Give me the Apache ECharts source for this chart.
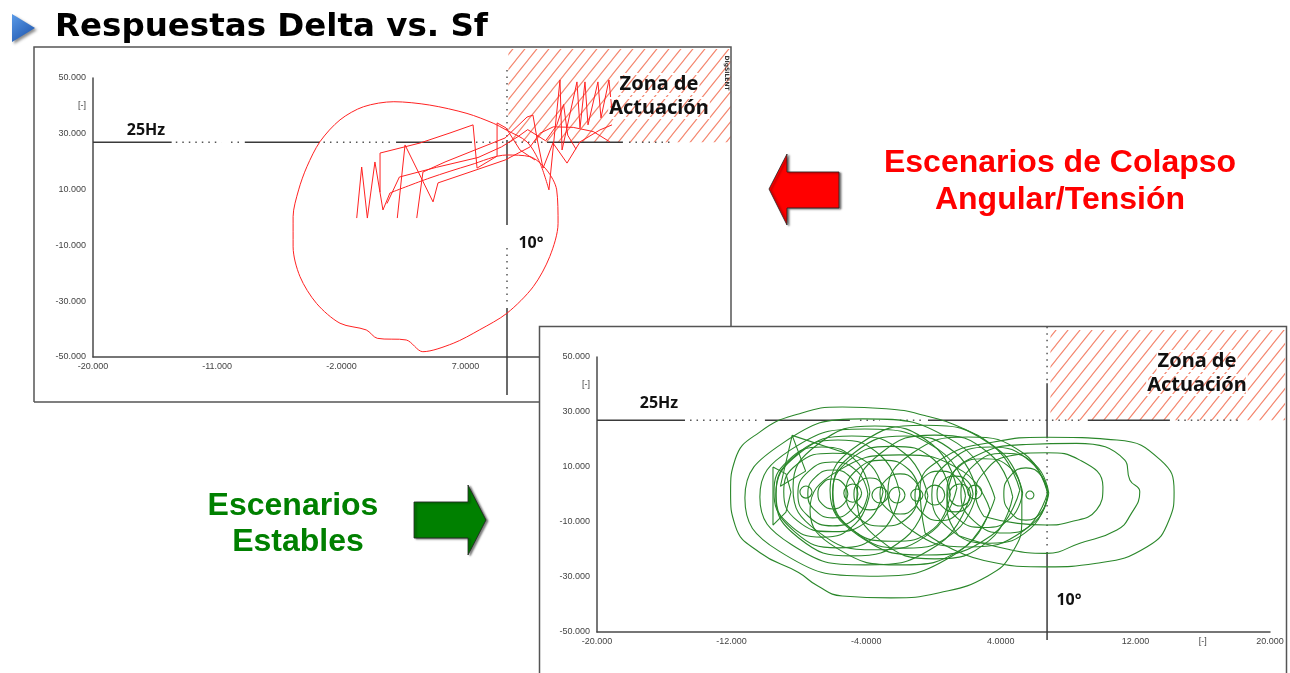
<!DOCTYPE html>
<html><head><meta charset="utf-8">
<script src="https://cdn.jsdelivr.net/npm/echarts/dist/echarts.min.js"></script>
<style>html,body{margin:0;padding:0;background:#fff;overflow:hidden}#c{width:1290px;height:673px}</style>
</head><body><div id="c"></div>
<script>
// ---------------- tick values / labels ----------------
const topXTicks = [-20, -11, -2, 7, 16, 25];
const topXTickLabels = ['-20.000', '-11.000', '-2.0000', '7.0000', '16.000', '25.000'];
const yTicks = [-50, -30, -10, 10, 30, 40, 50];
const yTickLabels = ['-50.000', '-30.000', '-10.000', '10.000', '30.000', '[-]', '50.000'];
const botXTicks = [-20, -12, -4, 4, 12, 16, 20];
const botXTickLabels = ['-20.000', '-12.000', '-4.0000', '4.0000', '12.000', '[-]', '20.000'];

// ---------------- reference lines (25Hz / 10°) ----------------
const topRefY = 27;
const topHSolid = [[-20, -14.3], [-9.0, -3.55], [1.96, 7.46], [12.9, 18.4]];
const topHDots = [[-14.0, -10.7], [-10.0, -9.3], [-3.3, 1.7], [7.75, 12.6], [18.84, 22.0]];
const topRefX = 10;
const topVSolid = [[27.8, -2.7], [-32.4, -63.6]];
const topVDots = [[52.9, 27.8], [-10.9, -30.6]];
const topZone = [[10.1, 27, 26.2, 60.4]];

const botRefY = 27;
const botHSolid = [[-20, -14.77], [-10.02, -4.97], [-0.33, 4.42], [9.17, 14.05]];
const botHDots = [[-14.47, -10.31], [-4.37, -3.18], [-2.0, -0.51], [4.72, 8.88], [14.52, 18.2]];
const botRefX = 6.75;
const botVSolid = [[40.5, 20.5], [-20.9, -52.9]];
const botVDots = [[61.0, 40.5], [19.8, -20.2]];
const botZone = [[6.95, 27, 20.9, 59.8]];

// ---------------- red trajectories (collapse) ----------------
const redZigA = [[-0.89,-0.2],[-0.53,18.1],[-0.12,-0.2],[0.43,19.9],[1.01,2.7],[1.52,8.8]];
const redLoop = [[1.52,8.8],[4.42,14.2],[7.32,18.8],[9.98,22.4],[11.67,21.8],[12.88,17.0],[13.6,9.9],[13.7,-2.1],[13.1,-14.0],[11.9,-24.8],[10.0,-34.3],[8.0,-40.3],[6.1,-45.1],[3.9,-48.1],[2.7,-43.9],[0.6,-43.3],[-0.2,-40.3],[-2.1,-37.9],[-3.8,-30.8],[-5.0,-21.2],[-5.5,-10.5],[-5.5,0.3],[-5.1,9.9],[-4.5,18.2],[-3.55,27.2],[-2.1,35.0],[-0.4,39.7],[1.8,41.5],[4.4,40.3],[7.1,37.3],[9.0,33.8],[9.93,31.4],[11.45,27.1],[12.39,19.5],[13.04,9.9]];
const redSpikes = [[13.04,9.9],[13.84,49.3],[13.99,24.2],[15.07,48.6],[15.29,32.1],[15.65,48.6],[15.87,33.2],[16.59,48.6],[16.81,35.7],[17.39,49.3],[17.61,37.8]];
const redZ2 = [[2.05,-0.2],[2.61,26.0],[4.64,5.6],[5.0,12.4],[7.32,16.3],[9.86,20.6],[11.67,25.3],[12.39,30.2],[13.36,32.5],[14.8,32.3],[16.25,30.8],[17.46,27.1]];
const redZ3 = [[0.8,9.1],[0.8,23.1],[3.7,26.7],[5.87,30.3],[7.54,33.2],[7.83,17.7],[9.28,22.0],[9.28,33.9],[9.93,32.1],[10.94,24.2],[12.03,20.6]];
const redZ4 = [[3.46,-0.2],[3.91,16.3],[5.51,19.9],[7.68,24.2],[9.86,28.5],[11.45,36.0],[11.88,36.7],[12.17,28.5],[12.61,17.7],[13.33,26.7],[14.35,19.5],[15.29,27.1],[16.74,31.4],[17.61,33.2]];
const redZ5 = [[1.3,5.0],[2.2,14.5],[4.9,18.0],[7.9,21.5],[9.6,25.3],[10.8,29.0],[11.5,31.5],[12.8,27.5],[13.6,33.0],[14.1,40.5],[14.4,29.5],[15.0,24.5]];

// ---------------- green trajectories (stable) ----------------
const gA1 = [[5.25,0.8],[4.68,10.5],[3.53,17.8],[1.79,23.9],[-0.52,28.7],[-2.82,31.2],[-5.42,31.8],[-8.02,29.3],[-10.33,22.7],[-11.78,12.9],[-12.06,0.8],[-11.78,-11.4],[-10.33,-21.1],[-8.02,-28.4],[-6.87,-33.3],[-5.42,-36.9],[-2.53,-37.6],[0.35,-35.7],[3.23,-29.6],[4.68,-21.1],[5.25,-9.0],[5.25,0.8]];
const gA2 = [[3.65,-1.3],[1.42,18.6],[-4.2,27.5],[-8.98,18.6],[-11.21,-1.3],[-9.2,-20.5],[-3.78,-29.7],[1.42,-21.2],[3.65,-1.3]];
const gA3 = [[2.16,-0.9],[0.29,16.4],[-4.08,23.8],[-8.45,16.4],[-10.32,-0.9],[-8.45,-18.2],[-4.08,-25.6],[0.29,-18.2],[2.16,-0.9]];
const gB1 = [[-3.78,0.9],[-4.63,12.4],[-6.63,17.3],[-8.63,12.4],[-9.48,0.9],[-8.63,-10.6],[-6.63,-15.5],[-4.63,-10.6],[-3.78,0.9]];
const gB2 = [[-2.0,0.2],[-3.1,13.9],[-5.68,19.8],[-8.26,13.9],[-9.36,0.2],[-8.26,-13.5],[-5.68,-19.4],[-3.1,-13.5],[-2.0,0.2]];
const gB3 = [[-0.33,-0.5],[-1.69,14.8],[-4.85,21.3],[-8.01,14.8],[-9.37,-0.5],[-8.01,-15.8],[-4.85,-22.3],[-1.69,-15.8],[-0.33,-0.5]];
const gB4 = [[1.39,2.4],[-0.07,18.2],[-3.48,24.9],[-6.89,18.2],[-8.35,2.4],[-6.89,-13.4],[-3.48,-20.1],[-0.07,-13.4],[1.39,2.4]];
const gB5 = [[2.58,0.9],[1.3,15.2],[-1.7,21.3],[-4.7,15.2],[-5.98,0.9],[-4.7,-13.4],[-1.7,-19.5],[1.3,-13.4],[2.58,0.9]];
const gB6 = [[4.71,-0.9],[3.32,14.9],[0.08,21.6],[-3.16,14.9],[-4.55,-0.9],[-3.16,-16.7],[0.08,-23.4],[3.32,-16.7],[4.71,-0.9]];
const gB7 = [[6.79,0.9],[5.37,14.9],[2.04,20.9],[-1.29,14.9],[-2.71,0.9],[-1.29,-13.1],[2.04,-19.1],[5.37,-13.1],[6.79,0.9]];
const gB8 = [[6.8,-0.2],[5.76,12.0],[3.35,17.3],[0.94,12.0],[-0.1,-0.2],[0.94,-12.4],[3.35,-17.7],[5.76,-12.4],[6.8,-0.2]];
const gB9 = [[6.85,0.5],[6.07,10.7],[4.24,15.0],[2.41,10.7],[1.63,0.5],[2.41,-9.7],[4.24,-14.0],[6.07,-9.7],[6.85,0.5]];
const gB10 = [[6.8,0.2],[6.41,6.8],[5.49,9.7],[4.57,6.8],[4.18,0.2],[4.57,-6.4],[5.49,-9.3],[6.41,-6.4],[6.8,0.2]];
const gB11 = [[5.13,1.6],[3.44,18.1],[-0.51,25.2],[-4.46,18.1],[-6.15,1.6],[-4.46,-14.9],[-0.51,-22.0],[3.44,-14.9],[5.13,1.6]];
const gB12 = [[3.36,-5.6],[1.75,8.4],[-1.99,14.4],[-5.73,8.4],[-7.34,-5.6],[-5.73,-19.6],[-1.99,-25.6],[1.75,-19.6],[3.36,-5.6]];
const gB13 = [[-3.0,1.0],[-3.9,11.5],[-6.0,15.0],[-8.1,11.0],[-8.9,1.0],[-8.1,-9.5],[-6.0,-13.5],[-3.9,-9.5],[-3.0,1.0]];
const gB14 = [[1.0,0.0],[0.0,12.8],[-2.5,17.5],[-5.0,12.5],[-6.0,0.0],[-5.0,-12.0],[-2.5,-17.0],[0.0,-12.5],[1.0,0.0]];
const gB15 = [[5.3,0.5],[4.6,9.5],[3.0,13.0],[1.4,9.5],[0.8,0.5],[1.4,-8.5],[3.0,-12.0],[4.6,-8.5],[5.3,0.5]];
const gD1 = [[-5.09,0.2],[-5.36,4.0],[-5.98,5.65],[-6.6,4.0],[-6.87,0.2],[-6.6,-3.6],[-5.98,-5.25],[-5.36,-3.6],[-5.09,0.2]];
const gD2 = [[-4.49,0.2],[-4.94,6.3],[-5.98,8.9],[-7.02,6.3],[-7.47,0.2],[-7.02,-5.9],[-5.98,-8.5],[-4.94,-5.9],[-4.49,0.2]];
const gD3 = [[-3.9,0.2],[-4.52,8.3],[-5.98,11.8],[-7.44,8.3],[-8.06,0.2],[-7.44,-7.9],[-5.98,-11.4],[-4.52,-7.9],[-3.9,0.2]];
const gC1 = [[-7.22,0.9],[-7.33,2.44],[-7.58,3.1],[-7.83,2.44],[-7.94,0.9],[-7.83,-0.64],[-7.58,-1.3],[-7.33,-0.64],[-7.22,0.9]];
const gC2 = [[-4.27,0.5],[-4.43,2.8],[-4.8,3.8],[-5.17,2.8],[-5.33,0.5],[-5.17,-1.8],[-4.8,-2.8],[-4.43,-1.8],[-4.27,0.5]];
const gC3 = [[-2.7,-0.2],[-2.85,1.8],[-3.18,2.7],[-3.51,1.8],[-3.66,-0.2],[-3.51,-2.2],[-3.18,-3.1],[-2.85,-2.2],[-2.7,-0.2]];
const gC4 = [[-1.69,-0.2],[-1.84,1.8],[-2.17,2.7],[-2.5,1.8],[-2.65,-0.2],[-2.5,-2.2],[-2.17,-3.1],[-1.84,-2.2],[-1.69,-0.2]];
const gC5 = [[-0.63,-0.2],[-0.74,1.34],[-0.99,2.0],[-1.24,1.34],[-1.35,-0.2],[-1.24,-1.74],[-0.99,-2.4],[-0.74,-1.74],[-0.63,-0.2]];
const gC6 = [[0.67,-0.2],[0.5,2.3],[0.08,3.4],[-0.34,2.3],[-0.51,-0.2],[-0.34,-2.7],[0.08,-3.8],[0.5,-2.7],[0.67,-0.2]];
const gC7 = [[2.22,-0.2],[2.03,2.6],[1.57,3.8],[1.11,2.6],[0.92,-0.2],[1.11,-3.0],[1.57,-4.2],[2.03,-3.0],[2.22,-0.2]];
const gC8 = [[2.88,0.9],[2.75,2.65],[2.46,3.4],[2.17,2.65],[2.04,0.9],[2.17,-0.85],[2.46,-1.6],[2.75,-0.85],[2.88,0.9]];
const gC9 = [[5.97,-0.2],[5.9,0.8],[5.73,1.25],[5.56,0.8],[5.49,-0.2],[5.56,-1.2],[5.73,-1.65],[5.9,-1.2],[5.97,-0.2]];
const gC11 = [[-2.83,0.2],[-3.11,4.3],[-3.78,6.0],[-4.45,4.3],[-4.73,0.2],[-4.45,-3.9],[-3.78,-5.6],[-3.11,-3.9],[-2.83,0.2]];
const gC12 = [[2.35,0.2],[2.03,4.8],[1.28,6.7],[0.53,4.8],[0.21,0.2],[0.53,-4.4],[1.28,-6.3],[2.03,-4.4],[2.35,0.2]];
const gC13 = [[-0.8,0.2],[-1.16,5.3],[-1.99,7.5],[-2.82,5.3],[-3.18,0.2],[-2.82,-4.9],[-1.99,-7.1],[-1.16,-4.9],[-0.8,0.2]];
const gC14 = [[1.9,-0.5],[1.45,5.8],[0.4,8.5],[-0.65,5.8],[-1.1,-0.5],[-0.65,-6.8],[0.4,-9.5],[1.45,-6.8],[1.9,-0.5]];
const gC15 = [[-0.8,0.5],[-1.45,9.0],[-3.0,12.5],[-4.55,9.0],[-5.2,0.5],[-4.55,-8.0],[-3.0,-11.5],[-1.45,-8.0],[-0.8,0.5]];
const gR1 = [[-0.5,-14],[3.0,-24],[6.7,-26.3],[9.7,-25],[12.7,-19],[14.0,-9.3],[14.3,1.0],[13.5,12.5],[10.9,19.8],[6.7,20.8],[3.5,19],[0.5,13],[-0.8,2],[-0.5,-14]];
const gR2 = [[1.5,-15],[4.5,-20],[6.7,-21.4],[8.7,-17.7],[10.9,-12.9],[11.7,-7.5],[12.26,1.0],[11.67,5.3],[11.37,12.5],[8.5,18.6],[5.5,18.2],[2.5,14],[1.0,5],[0.8,-5],[1.5,-15]];
const gR3 = [[3.0,-8],[5.0,-10.5],[6.72,-11.1],[8.1,-10],[9.69,-5.6],[10.07,2.8],[8.7,12.5],[6.72,15.2],[4.5,14],[3.0,8],[2.5,0],[3.0,-8]];
const gDshape = [[-9.54,10.0],[-8.77,7.5],[-8.47,0.9],[-8.77,-6.4],[-9.54,-11.1],[-9.54,10.0]];
const gTriangle = [[-8.4,21.5],[-9.1,3.0],[-7.6,8.5],[-8.4,21.5],[-5.2,15.0]];

const greenLoops = [gA1,gA2,gA3,gB1,gB2,gB3,gB4,gB5,gB6,gB7,gB8,gB9,gB10,gB11,gB12,gB13,gB14,gB15,gD1,gD2,gD3,
  gC1,gC2,gC3,gC4,gC5,gC6,gC7,gC8,gC9,gC11,gC12,gC13,gC14,gC15,gR1,gR2,gR3];

// ---------------- helpers ----------------
function labelFor(ticks, labels) {
  return function (v) {
    for (let i = 0; i < ticks.length; i++) if (Math.abs(ticks[i] - v) < 1e-6) return labels[i];
    return '';
  };
}
function hatchCanvas() {
  const c = document.createElement('canvas');
  c.width = 12; c.height = 15;
  const g = c.getContext('2d');
  g.strokeStyle = '#f4846c'; g.lineWidth = 1.1;
  [[-12, 30, 24, -15], [0, 30, 36, -15], [-24, 30, 12, -15]].forEach(function (s) {
    g.beginPath(); g.moveTo(s[0], s[1]); g.lineTo(s[2], s[3]); g.stroke();
  });
  return c;
}
const hatch = hatchCanvas();

const series = [];
function addLine(data, gi, opt) {
  series.push(Object.assign({
    type: 'line', xAxisIndex: gi, yAxisIndex: gi, data: data, showSymbol: false, symbol: 'none',
    clip: false, silent: true, animation: false
  }, opt));
}
function addZone(data, gi, z) {
  series.push({
    type: 'custom', xAxisIndex: gi, yAxisIndex: gi, data: data, z: z, silent: true, animation: false, clip: false,
    renderItem: function (params, api) {
      const a = api.coord([api.value(0), api.value(3)]);
      const b = api.coord([api.value(2), api.value(1)]);
      return { type: 'rect', shape: { x: a[0], y: a[1], width: b[0] - a[0], height: b[1] - a[1] },
        style: { fill: { image: hatch, repeat: 'repeat' } } };
    }
  });
}
const solidRef = { color: '#3a3a3a', width: 1.5, type: 'solid' };
const dotRef = { color: '#555', width: 1.5, type: [1.5, 5] };
function addRefs(gi, hy, hs, hd, vx, vs, vd, z) {
  hs.forEach(s => addLine([[s[0], hy], [s[1], hy]], gi, { z: z, lineStyle: solidRef }));
  hd.forEach(s => addLine([[s[0], hy], [s[1], hy]], gi, { z: z, lineStyle: dotRef }));
  vs.forEach(s => addLine([[vx, s[0]], [vx, s[1]]], gi, { z: z, lineStyle: solidRef }));
  vd.forEach(s => addLine([[vx, s[0]], [vx, s[1]]], gi, { z: z, lineStyle: dotRef }));
}

// top chart
addZone(topZone, 0, 1);
addRefs(0, topRefY, topHSolid, topHDots, topRefX, topVSolid, topVDots, 2);
const redStyle = { color: '#ff2222', width: 1 };
addLine(redZigA, 0, { z: 3, lineStyle: redStyle });
addLine(redLoop, 0, { z: 3, lineStyle: redStyle, smooth: 0.3 });
[redSpikes, redZ2, redZ3, redZ4, redZ5].forEach(d => addLine(d, 0, { z: 3, lineStyle: redStyle }));

// bottom chart
addZone(botZone, 1, 11);
addRefs(1, botRefY, botHSolid, botHDots, botRefX, botVSolid, botVDots, 12);
const greenStyle = { color: '#2a872a', width: 1.1 };
greenLoops.forEach(d => addLine(d, 1, { z: 13, lineStyle: greenStyle, smooth: true }));
addLine(gDshape, 1, { z: 13, lineStyle: greenStyle });
addLine(gTriangle, 1, { z: 13, lineStyle: greenStyle });

const axisLabelBase = { fontSize: 9, color: '#444', fontFamily: 'Liberation Sans' };
function xAx(gi, min, max, ticks, labels, z) {
  return { gridIndex: gi, type: 'value', min: min, max: max, z: z,
    axisLine: { show: true, onZero: false, lineStyle: { color: '#4a4a4a', width: 1.5 } },
    axisTick: { show: false }, splitLine: { show: false },
    axisLabel: Object.assign({ customValues: ticks, formatter: labelFor(ticks, labels), margin: 5 }, axisLabelBase) };
}
function yAx(gi, z) {
  return { gridIndex: gi, type: 'value', min: -50, max: 50, z: z,
    axisLine: { show: true, onZero: false, lineStyle: { color: '#4a4a4a', width: 1.5 } },
    axisTick: { show: false }, splitLine: { show: false },
    axisLabel: Object.assign({ customValues: yTicks, formatter: labelFor(yTicks, yTickLabels), margin: 7 }, axisLabelBase) };
}

function txt(x, y, text, font, fill, extra) {
  return Object.assign({ type: 'text', x: x, y: y, silent: true,
    style: Object.assign({ text: text, font: font, fill: fill, align: 'center', verticalAlign: 'middle',
      textAlign: 'center', textVerticalAlign: 'middle' }, extra && extra.style) }, extra && extra.el);
}
const zoneFont = 'bold 20px "Noto Sans"';
const markFont = 'bold 16px "Noto Sans"';
const bigFont = 'bold 32px "Liberation Sans"';
const zoneStyle = { style: { textBorderColor: '#fff', textBorderWidth: 2 } };

const graphics = [
  // title
  { type: 'polygon', shape: { points: [[12, 14], [35, 28], [12, 42]] }, z: 20,
    style: { fill: new echarts.graphic.LinearGradient(0, 0, 1, 1, [{ offset: 0, color: '#5a9be8' }, { offset: 1, color: '#1a4fa8' }]),
      shadowBlur: 3, shadowColor: 'rgba(0,0,0,0.45)', shadowOffsetX: 2, shadowOffsetY: 2 } },
  Object.assign(txt(55, 28, 'Respuestas Delta vs. Sf', 'bold 32.5px "DejaVu Sans"', '#000',
    { style: { align: 'left', textAlign: 'left' } }), { z: 20 }),
  // top panel frame
  { type: 'polyline', z: 5, shape: { points: [[34, 402], [34, 47], [731, 47], [731, 330]] }, style: { stroke: '#555', lineWidth: 1.5, fill: null } },
  { type: 'line', z: 5, shape: { x1: 34, y1: 402, x2: 545, y2: 402 }, style: { stroke: '#555', lineWidth: 1.5 } },
  Object.assign(txt(727, 73, 'DIgSILENT', 'bold 6px "DejaVu Sans"', '#333'), { z: 6, rotation: -Math.PI / 2 }),
  // top annotations
  Object.assign(txt(146, 130, '25Hz', markFont, '#111'), { z: 6 }),
  Object.assign(txt(531, 243, '10°', markFont, '#111'), { z: 6 }),
  Object.assign(txt(659, 84, 'Zona de', zoneFont, '#111', zoneStyle), { z: 6 }),
  Object.assign(txt(659, 108, 'Actuación', zoneFont, '#111', zoneStyle), { z: 6 }),
  // bottom panel
  { type: 'rect', z: 10, shape: { x: 539.5, y: 326.5, width: 747, height: 360 }, style: { fill: '#fff', stroke: '#555', lineWidth: 1.5 } },
  Object.assign(txt(659, 403, '25Hz', markFont, '#111'), { z: 14 }),
  Object.assign(txt(1069, 600, '10°', markFont, '#111'), { z: 14 }),
  Object.assign(txt(1197, 361, 'Zona de', zoneFont, '#111', zoneStyle), { z: 14 }),
  Object.assign(txt(1197, 385, 'Actuación', zoneFont, '#111', zoneStyle), { z: 14 }),
  // red arrow + text
  { type: 'polygon', z: 20, shape: { points: [[769, 189], [787, 154], [787, 172], [839, 172], [839, 208], [787, 208], [787, 225]] },
    style: { fill: '#ff0000', stroke: '#222', lineWidth: 0.8, shadowColor: 'rgba(0,0,0,0.5)', shadowBlur: 2, shadowOffsetX: 2, shadowOffsetY: 1 } },
  Object.assign(txt(1060, 163, 'Escenarios de Colapso', bigFont, '#ff0000'), { z: 20 }),
  Object.assign(txt(1060, 200, 'Angular/Tensión', bigFont, '#ff0000'), { z: 20 }),
  // green arrow + text
  { type: 'polygon', z: 20, shape: { points: [[414, 502], [468, 502], [468, 485], [486, 520], [468, 555], [468, 538], [414, 538]] },
    style: { fill: '#008000', stroke: '#222', lineWidth: 0.8, shadowColor: 'rgba(0,0,0,0.5)', shadowBlur: 2, shadowOffsetX: 2, shadowOffsetY: 1 } },
  Object.assign(txt(293, 506, 'Escenarios', bigFont, '#008000'), { z: 20 }),
  Object.assign(txt(298, 542, 'Estables', bigFont, '#008000'), { z: 20 })
];

const chart = echarts.init(document.getElementById('c'), null, { renderer: 'canvas', width: 1290, height: 673 });
chart.setOption({
  animation: false,
  backgroundColor: '#fff',
  grid: [
    { left: 93, top: 78, width: 621, height: 279, containLabel: false, outerBoundsMode: 'none' },
    { left: 597, top: 357, width: 673, height: 275, containLabel: false, outerBoundsMode: 'none' }
  ],
  xAxis: [xAx(0, -20, 25, topXTicks, topXTickLabels, 0), xAx(1, -20, 20, botXTicks, botXTickLabels, 11)],
  yAxis: [yAx(0, 0), yAx(1, 11)],
  series: series,
  graphic: { elements: graphics }
});
</script></body></html>
